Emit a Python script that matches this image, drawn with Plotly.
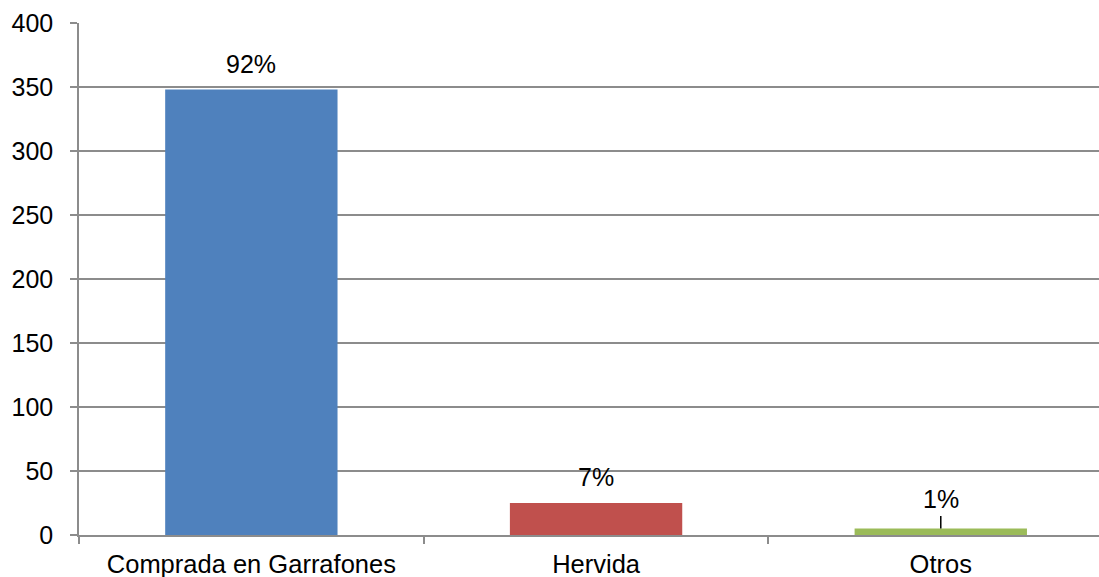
import plotly.graph_objects as go

categories = ["Comprada en Garrafones", "Hervida", "Otros"]
values = [348, 25, 5]
labels = ["92%", "7%", "1%"]
colors = ["#4F81BD", "#C0504D", "#9BBB59"]
y_ticks = [0, 50, 100, 150, 200, 250, 300, 350, 400]

FONT = "Liberation Sans, Arial, sans-serif"
GRID = "#8c8c8c"

fig = go.Figure()
fig.add_trace(go.Bar(
    x=categories, y=values, marker=dict(color=colors, line=dict(width=0)),
    width=0.5, showlegend=False, hoverinfo="skip",
))

for i, (c, v, t) in enumerate(zip(categories, values, labels)):
    if i < 2:
        fig.add_annotation(x=c, y=v, text=t, showarrow=False, yanchor="middle",
                           yshift=26, font=dict(family=FONT, size=25, color="black"))
    else:
        fig.add_annotation(x=c, y=v, text=t, showarrow=True, arrowhead=0,
                           arrowwidth=1.5, arrowcolor="black", ax=0, ay=-30,
                           startstandoff=2,
                           font=dict(family=FONT, size=25, color="black"))

fig.update_layout(
    width=1099, height=577,
    margin=dict(l=79, r=0, t=23, b=42),
    paper_bgcolor="white", plot_bgcolor="white",
    font=dict(family=FONT, size=25, color="black"),
    xaxis=dict(
        range=[-0.5, 2.459], showgrid=False, showline=True, linecolor=GRID,
        linewidth=1.5, ticks="outside", tickson="boundaries", ticklen=7,
        tickcolor=GRID, tickwidth=1.5, tickfont=dict(size=25.5),
        ticklabelstandoff=6, automargin=False, fixedrange=True,
    ),
    yaxis=dict(
        range=[0, 400], tickvals=y_ticks, showgrid=True, gridcolor=GRID,
        gridwidth=1.5, showline=True, linecolor=GRID, linewidth=1.5,
        ticks="outside", ticklen=7, tickcolor=GRID, tickwidth=1.5,
        zeroline=False, tickfont=dict(size=25), ticklabelstandoff=12,
        automargin=False, fixedrange=True,
    ),
)

fig.write_html("out.html")
